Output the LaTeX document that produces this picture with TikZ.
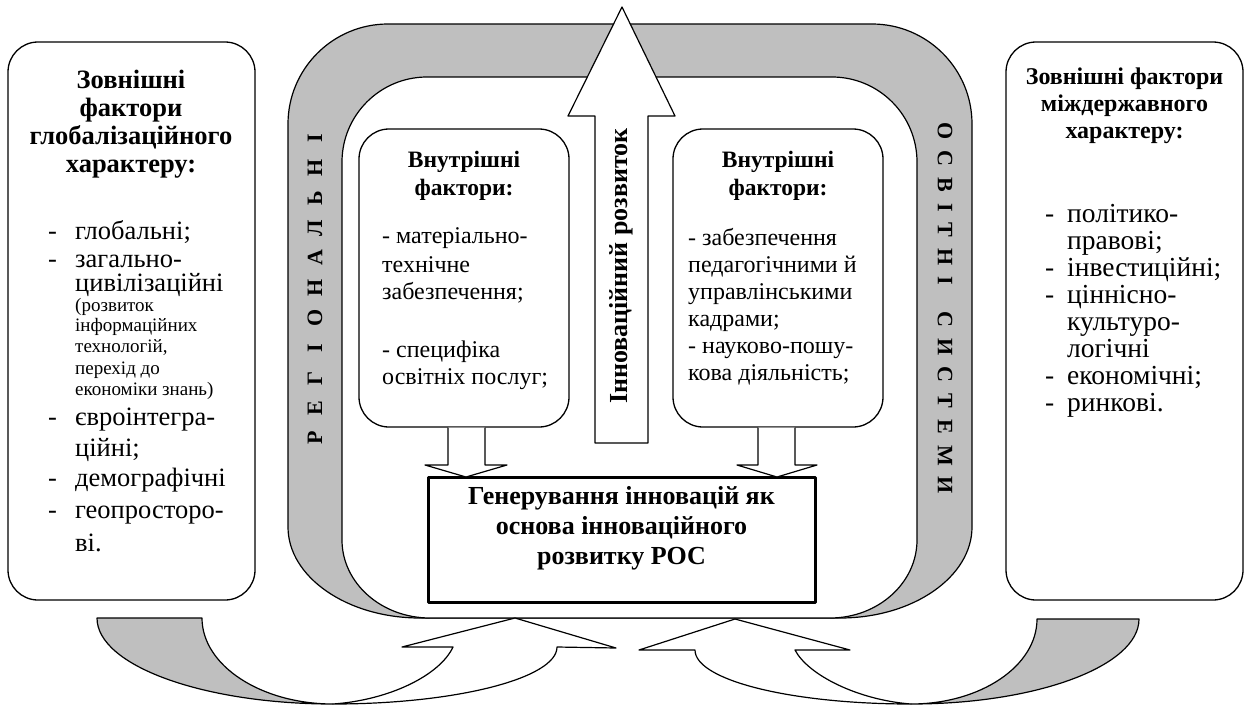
\documentclass[tikz,border=0pt]{standalone}
\usepackage{fontspec}
\setmainfont{Liberation Serif}
\newcommand{\ks}{\kern 11pt}
\begin{document}
\begin{tikzpicture}[x=1pt,y=-1pt, line join=round,
  ol/.style={draw, line width=1.2pt},
  rbox/.style={draw, line width=1.3pt, rounded corners=30pt, fill=white, inner sep=0pt},
  ttl/.style={anchor=base, inner sep=0pt, font=\bfseries\fontsize{26.5}{30}\selectfont},
  ttls/.style={anchor=base, inner sep=0pt, font=\bfseries\fontsize{23.5}{27}\selectfont},
  ttlr/.style={anchor=base, inner sep=0pt, font=\bfseries\fontsize{24}{27}\selectfont},
  itm/.style={anchor=base west, inner sep=0pt, font=\fontsize{24}{28}\selectfont},
  itmL/.style={anchor=base west, inner sep=0pt, font=\fontsize{26.5}{30}\selectfont},
  itmR/.style={anchor=base west, inner sep=0pt, font=\fontsize{27.5}{30}\selectfont},
  sml/.style={anchor=base west, inner sep=0pt, font=\fontsize{19}{21}\selectfont},
  vlet/.style={inner sep=0pt, font=\bfseries\fontsize{22}{26}\selectfont},
]
\useasboundingbox (0,0) rectangle (1250,707);

% ---------- grey frame (regional education system) ----------
\path[ol, fill=black!25] (288,527) -- (288,124) .. controls (288,68.8) and (332.8,24) .. (388,24)
  -- (872,24) .. controls (927.2,24) and (972,68.8) .. (972,124) -- (972,527)
  .. controls (972,577) and (912.9,618) .. (840,618) -- (420,618)
  .. controls (347.1,618) and (288,577) .. (288,527) -- cycle;
\path[ol, fill=white] (342,540) -- (342,162) .. controls (342,115.1) and (380.1,77) .. (427,77)
  -- (832,77) .. controls (878.9,77) and (917,115.1) .. (917,162) -- (917,540)
  .. controls (917,583) and (878,618) .. (830,618) -- (430,618)
  .. controls (381.4,618) and (342,583) .. (342,540) -- cycle;

% vertical letters
\foreach \ch [count=\i] in {Р,Е,Г,І,О,Н,А,Л,Ь,Н,І}
  \node[vlet, rotate=90] (reg\i) at (315, 438-30*\i+30) {\ch};
\node[vlet, rotate=-90] (osv) at (945, 204) {О\ks С\ks В\ks І\ks Т\ks Н\ks І};
\node[vlet, rotate=-90] (sys) at (945, 403) {С\ks И\ks С\ks Т\ks Е\ks М\ks И};

% ---------- big up arrow ----------
\path[ol, fill=white] (595,443) -- (595,116) -- (568,116) -- (622,7) -- (675,116) -- (648,116) -- (648,443) -- cycle;
\node[rotate=90, inner sep=0pt, font=\bfseries\fontsize{26}{30}\selectfont] (innov) at (621.5,266) {Інноваційний розвиток};

% ---------- inner boxes ----------
\node[rbox, minimum width=210, minimum height=298] (ibl) at (464,278) {};
\node[rbox, minimum width=210, minimum height=298] (ibr) at (778,278) {};

\node[ttls] (iblt1) at (464,167) {Внутрішні};
\node[ttls] (iblt2) at (464,195) {фактори:};
\node[itm] (ibl1) at (382,243) {- матеріально-};
\node[itm] (ibl2) at (382,272) {технічне};
\node[itm] (ibl3) at (382,299) {забезпечення;};
\node[itm] (ibl4) at (382,357) {- специфіка};
\node[itm] (ibl5) at (382,384) {освітніх послуг;};

\node[ttls] (ibrt1) at (778,167) {Внутрішні};
\node[ttls] (ibrt2) at (778,195) {фактори:};
\node[itm] (ibr1) at (688,245) {- забезпечення};
\node[itm] (ibr2) at (688,272) {педагогічними й};
\node[itm] (ibr3) at (688,299) {управлінськими};
\node[itm] (ibr4) at (688,326) {кадрами;};
\node[itm] (ibr5) at (688,353) {- науково-пошу-};
\node[itm] (ibr6) at (688,380) {кова діяльність;};

% ---------- generation box ----------
\node[draw, line width=3pt, fill=white, minimum width=387, minimum height=125] (gen) at (621.5,539.5) {};
\node[align=center, inner sep=0pt, font=\bfseries\fontsize{26}{30}\selectfont] (gentxt) at (621.5,528) {Генерування інновацій як\\ основа інноваційного\\ розвитку РОС};

% down arrows
\path[ol, fill=white] (ibl.south -| 448,0) -- (448,465) -- (425,465) -- (466,477) -- (507,465) -- (485,465) -- (ibl.south -| 485,0);
\path[ol, fill=white] (ibr.south -| 758,0) -- (758,465) -- (737,465) -- (777,477) -- (817,465) -- (795,465) -- (ibr.south -| 795,0);

% ---------- left outer box ----------
\node[rbox, minimum width=247, minimum height=558] (lb) at (131.5,321) {};
\node[ttl] (lbt1) at (131,88) {Зовнішні};
\node[ttl] (lbt2) at (131,116) {фактори};
\node[ttl] (lbt3) at (131,144) {глобалізаційного};
\node[ttl] (lbt4) at (131,172) {характеру:};
\node[itmL] (lb1) at (48,239) {\makebox[27pt][l]{-}глобальні;};
\node[itmL] (lb2) at (48,267) {\makebox[27pt][l]{-}загально-};
\node[itmL] (lb3) at (75,291) {цивілізаційні};
\node[sml] (lb4) at (75,311) {(розвиток};
\node[sml] (lb5) at (75,331) {інформаційних};
\node[sml] (lb6) at (75,352) {технологій,};
\node[sml] (lb7) at (75,374) {перехід до};
\node[sml] (lb8) at (75,395) {економіки знань)};
\node[itmL] (lb9) at (48,425) {\makebox[27pt][l]{-}євроінтегра-};
\node[itmL] (lb10) at (75,456) {ційні;};
\node[itmL] (lb11) at (48,486) {\makebox[27pt][l]{-}демографічні};
\node[itmL] (lb12) at (48,518) {\makebox[27pt][l]{-}геопросторо-};
\node[itmL] (lb13) at (75,551) {ві.};

% ---------- right outer box ----------
\node[rbox, minimum width=237, minimum height=558] (rb) at (1124.5,321) {};
\node[ttlr] (rbt1) at (1124.5,84) {Зовнішні фактори};
\node[ttlr] (rbt2) at (1124.5,111) {міждержавного};
\node[ttlr] (rbt3) at (1124.5,138) {характеру:};
\node[itmR] (rb1) at (1045,222) {\makebox[22pt][l]{-}політико-};
\node[itmR] (rb2) at (1067,249) {правові;};
\node[itmR] (rb3) at (1045,276) {\makebox[22pt][l]{-}інвестиційні;};
\node[itmR] (rb4) at (1045,303) {\makebox[22pt][l]{-}ціннісно-};
\node[itmR] (rb5) at (1067,330) {культуро-};
\node[itmR] (rb6) at (1067,357) {логічні};
\node[itmR] (rb7) at (1045,384) {\makebox[22pt][l]{-}економічні;};
\node[itmR] (rb8) at (1045,411) {\makebox[22pt][l]{-}ринкові.};

% ---------- lower curved arrows ----------
\coordinate (lB) at (333,704);
\path[ol, fill=black!25] (97,618) .. controls (97,665.5) and (203,704) .. (lB)
  .. controls (261,704) and (202,665.5) .. (202,618) -- cycle;
\path[ol, fill=white] (lB) .. controls (457,704) and (557,678) .. (557,647) -- (616,648) -- (515,618)
  -- (402,647) -- (453,647) .. controls (440,675) and (390,700) .. (lB) -- cycle;

\coordinate (rB) at (911,704);
\path[ol, fill=black!25] (1139,619) .. controls (1139,666) and (1037,704) .. (rB)
  .. controls (980.6,704) and (1037,666) .. (1037,619) -- cycle;
\path[ol, fill=white] (rB) .. controls (790,704) and (695,680) .. (695,650) -- (639,650) -- (735,619)
  -- (850,650) -- (795,650) .. controls (808,675) and (858,700) .. (rB) -- cycle;
\end{tikzpicture}
\end{document}
